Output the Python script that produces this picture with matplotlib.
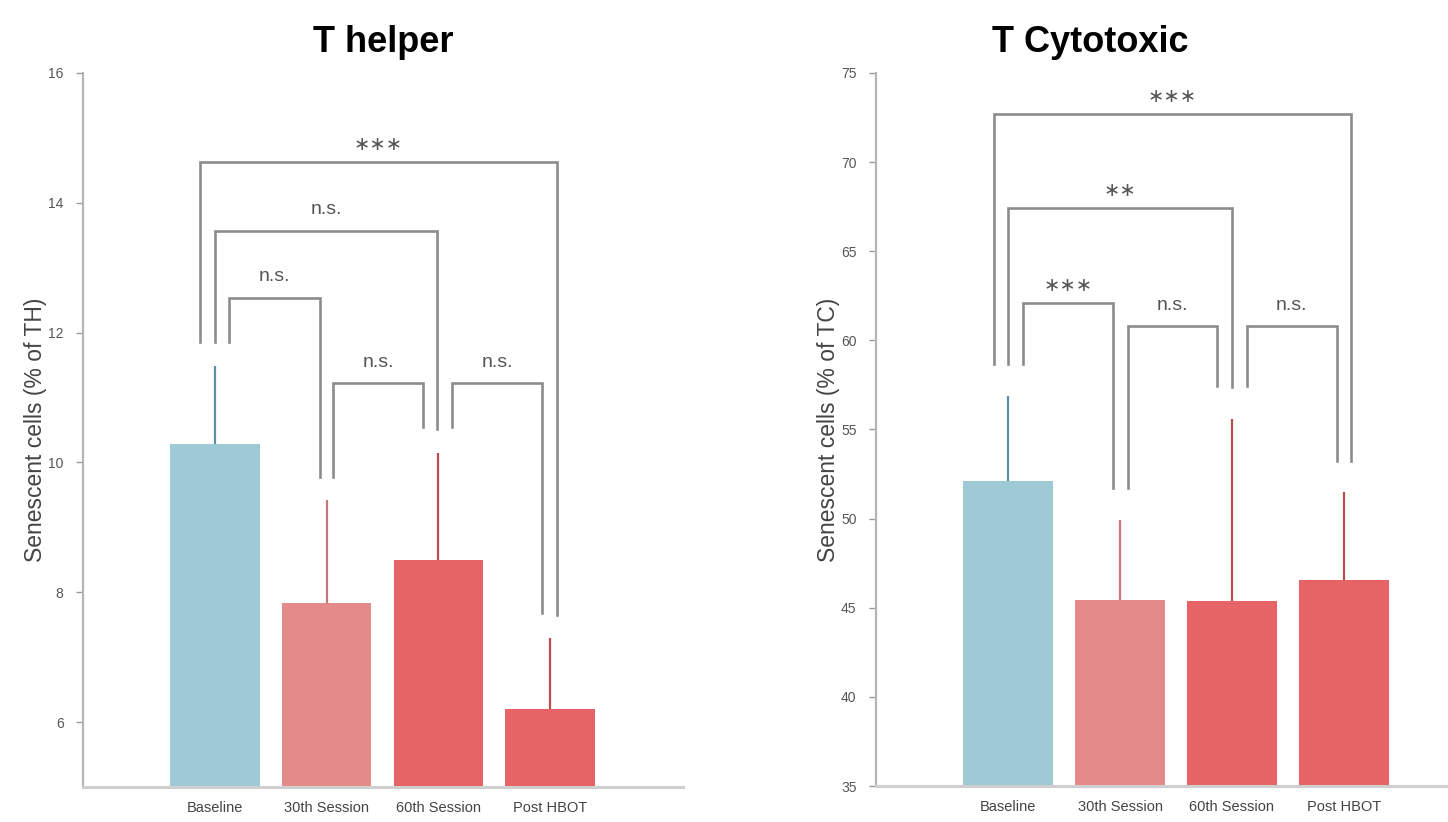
import matplotlib
matplotlib.use('Agg')
import matplotlib.pyplot as plt

plt.rcParams['font.family'] = ['Liberation Sans', 'DejaVu Sans']

groups = ['Baseline', '30th Session', '60th Session', 'Post HBOT']
colors = ['#9ecad6', '#e58a8b', '#e66465', '#e66465']
err_colors = ['#5e8f9c', '#c7777a', '#bf4b4e', '#bf4b4e']

# T helper
th_mean = [10.29, 7.83, 8.49, 6.20]
th_err = [1.20, 1.59, 1.66, 1.09]
th_ticks = [6, 8, 10, 12, 14, 16]
# (i, j, dx_i, dx_j, top, bottom_i, bottom_j, label)
th_brackets = [
    (0, 3, -0.13, 0.06, 14.63, 11.85, 7.65, '∗∗∗'),
    (0, 2, 0.0, -0.01, 13.57, 11.85, 10.52, 'n.s.'),
    (0, 1, 0.13, -0.06, 12.54, 11.85, 9.77, 'n.s.'),
    (1, 2, 0.06, -0.14, 11.22, 9.77, 10.54, 'n.s.'),
    (2, 3, 0.12, -0.07, 11.22, 10.54, 7.68, 'n.s.'),
]

# T cytotoxic
tc_mean = [52.1, 45.45, 45.4, 46.57]
tc_err = [4.78, 4.50, 10.2, 4.90]
tc_ticks = [35, 40, 45, 50, 55, 60, 65, 70, 75]
tc_brackets = [
    (0, 3, -0.13, 0.06, 72.69, 58.7, 53.25, '∗∗∗'),
    (0, 2, 0.0, 0.0, 67.4, 58.7, 57.37, '∗∗'),
    (0, 1, 0.13, -0.06, 62.07, 58.7, 51.74, '∗∗∗'),
    (1, 2, 0.07, -0.13, 60.8, 51.74, 57.45, 'n.s.'),
    (2, 3, 0.13, -0.06, 60.8, 57.45, 53.25, 'n.s.'),
]

fig = plt.figure(figsize=(14.48, 8.22), dpi=100)
ax1 = fig.add_axes([83/1448, 35/822, 600/1448, 714/822])
ax2 = fig.add_axes([876/1448, 36/822, 572/1448, 713/822])


def draw_panel(ax, means, errs, brackets, ticks, ylim, xright, ylab):
    x = list(range(len(groups)))
    ax.bar(x, means, width=0.8, color=colors, zorder=2)
    for i in x:
        ax.plot([i, i], [means[i], means[i] + errs[i]], color=err_colors[i],
                lw=1.6, solid_capstyle='butt', zorder=3)
    for i, j, di, dj, top, bi, bj, lab in brackets:
        xi, xj = i + di, j + dj
        ax.plot([xi, xi, xj, xj], [bi, top, top, bj], color='#8c8c8c', lw=1.9,
                solid_joinstyle='miter', zorder=4)
        if lab.startswith('∗'):
            ax.annotate(lab, ((xi + xj) / 2, top), xytext=(0, 6), textcoords='offset points',
                        ha='center', va='bottom', fontsize=14, color='#555555',
                        family='DejaVu Sans')
        else:
            ax.annotate(lab, ((xi + xj) / 2, top), xytext=(0, 9), textcoords='offset points',
                        ha='center', va='bottom', fontsize=14, color='#555555')
    ax.set_xlim(-1.18, xright)
    ax.set_ylim(*ylim)
    ax.set_yticks(ticks)
    ax.set_xticks(x)
    ax.set_xticklabels(groups, fontsize=10.5, color='#444444')
    ax.tick_params(axis='x', length=0, pad=10)
    ax.tick_params(axis='y', direction='out', length=5, width=1, color='#999999',
                   labelsize=10, labelcolor='#555555', pad=9)
    for s in ['top', 'right']:
        ax.spines[s].set_visible(False)
    ax.spines['left'].set_color('#b5b5b5')
    ax.spines['left'].set_linewidth(1.6)
    ax.spines['bottom'].set_color('#cfcfcf')
    ax.spines['bottom'].set_linewidth(2.2)
    ax.set_ylabel(ylab, fontsize=16.5, color='#444444', labelpad=1)


draw_panel(ax1, th_mean, th_err, th_brackets, th_ticks, (5, 16), 4.19,
           'Senescent cells (% of TH)')
draw_panel(ax2, tc_mean, tc_err, tc_brackets, tc_ticks, (35, 75), 3.93,
           'Senescent cells (% of TC)')

fig.text(383/1448, 1 - 43/822, 'T helper', ha='center', va='center',
         fontsize=26, fontweight='bold')
fig.text(1090/1448, 1 - 43/822, 'T Cytotoxic', ha='center', va='center',
         fontsize=26, fontweight='bold')

fig.savefig('out.png', dpi=100)
